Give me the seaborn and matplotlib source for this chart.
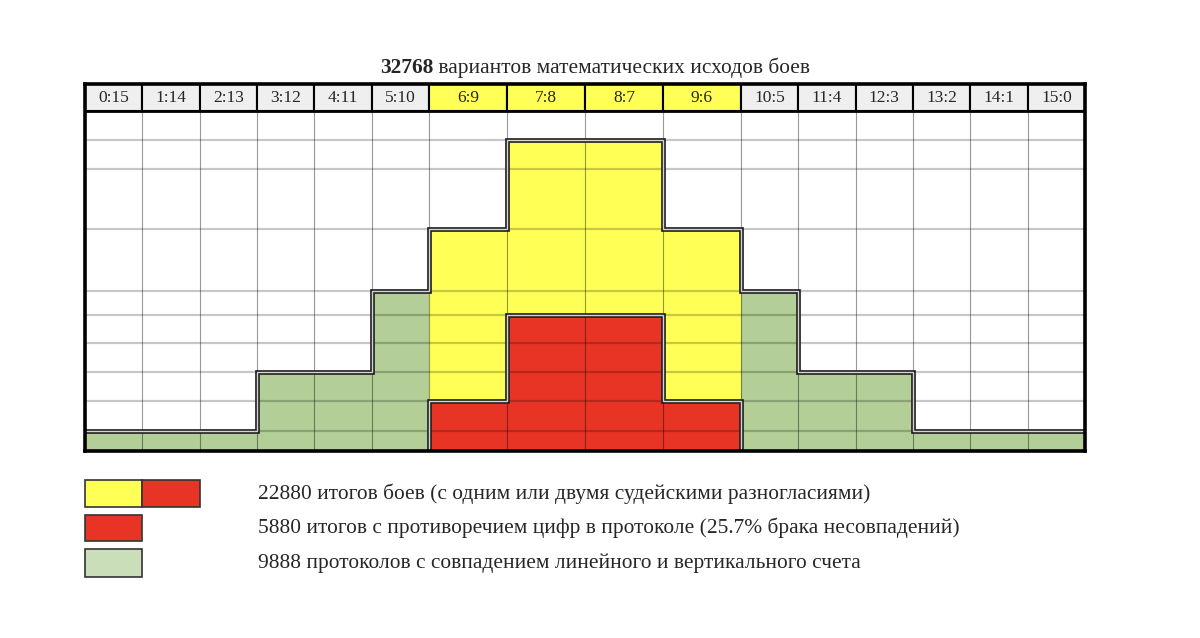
import numpy as np
import matplotlib.pyplot as plt
from matplotlib.patches import Rectangle
import seaborn as sns

# data (heights in plot units, 0..340)
scores = ["0:15", "1:14", "2:13", "3:12", "4:11", "5:10", "6:9", "7:8",
          "8:7", "9:6", "10:5", "11:4", "12:3", "13:2", "14:1", "15:0"]
col_widths = [1] * 6 + [1.36] * 4 + [1] * 6
green = [20, 20, 20, 79, 79, 160, 0, 0, 0, 0, 160, 79, 79, 20, 20, 20]
yellow = [0, 0, 0, 0, 0, 0, 222, 311, 311, 222, 0, 0, 0, 0, 0, 0]
red = [0, 0, 0, 0, 0, 0, 50, 136, 136, 50, 0, 0, 0, 0, 0, 0]
levels = [20, 50, 79, 108, 136, 160, 222, 282, 311]
top = 340
header_h = 27

legend_texts = [
    "22880 итогов боев (с одним или двумя судейскими разногласиями)",
    "5880 итогов с противоречием цифр в протоколе (25.7% брака несовпадений)",
    "9888 протоколов с совпадением линейного и вертикального счета",
]

c_green = "#b3cf97"
c_green_leg = "#c9deb9"
c_yellow = "#ffff55"
c_red = "#e83424"
c_head = "#efefef"

sns.set_theme(style="white")
plt.rcParams["font.family"] = ["Liberation Serif", "DejaVu Serif"]

fig = plt.figure(figsize=(12, 6.38), dpi=100)
ax = fig.add_axes([85 / 1200, (638 - 451) / 638, 1000 / 1200, 367 / 638])

edges = np.concatenate([[0], np.cumsum(col_widths)])
lefts = edges[:-1]

# fills
ax.bar(lefts, green, width=col_widths, align="edge", color=c_green, lw=0, zorder=1)
ax.bar(lefts, yellow, width=col_widths, align="edge", color=c_yellow, lw=0, zorder=1)
ax.bar(lefts, red, width=col_widths, align="edge", color=c_red, lw=0, zorder=2)

# grid over the fills
ax.hlines(levels, 0, edges[-1], color="black", alpha=0.22, lw=1.6, zorder=3)
ax.vlines(edges[1:-1], 0, top, color="black", alpha=0.4, lw=0.8, zorder=3)

# double outlines
envelope = np.maximum(green, yellow)
for lw, col in [(3.4, "#222222"), (1.0, "#d4d4d4")]:
    ax.stairs(envelope, edges, baseline=None, color=col, lw=lw, zorder=4)
    ax.stairs(red[6:10], edges[6:11], baseline=0, color=col, lw=lw, zorder=4)

# header row
head_colors = [c_yellow if 6 <= i <= 9 else c_head for i in range(len(scores))]
ax.bar(lefts, header_h, width=col_widths, bottom=top, align="edge",
       color=head_colors, edgecolor="black", lw=1.5, zorder=5)
for x, w, s in zip(lefts, col_widths, scores):
    ax.text(x + w / 2, top + header_h / 2, s, ha="center", va="center",
            fontsize=12.5, zorder=6)
ax.axhline(top, color="black", lw=2, zorder=6)

ax.set_xlim(0, edges[-1])
ax.set_ylim(0, top + header_h)
ax.set_xticks([])
ax.set_yticks([])
for sp in ax.spines.values():
    sp.set_visible(True)
    sp.set_color("black")
    sp.set_linewidth(2.6)
    sp.set_zorder(7)

# title
t1 = fig.text(380 / 1200, 1 - 68 / 638, "32768", fontsize=15.4, fontweight="bold",
              ha="left", va="center")
ax.annotate(" вариантов математических исходов боев", xy=(1, 0.5), xycoords=t1,
            xytext=(0, 0), textcoords="offset points", ha="left", va="center",
            fontsize=15.4, annotation_clip=False)

# legend
leg = fig.add_axes([0, 0, 1, 1], zorder=-1)
leg.set_xlim(0, 1200)
leg.set_ylim(638, 0)
leg.axis("off")
swatches = [
    (85, 480, 57, 27, c_yellow), (142, 480, 58, 27, c_red),
    (85, 515, 57, 26, c_red),
    (85, 549, 57, 28, c_green_leg),
]
for x, y, w, h, c in swatches:
    leg.add_patch(Rectangle((x, y), w, h, facecolor=c, edgecolor="#333333", lw=1.2))
for y, s in zip([494, 528, 563], legend_texts):
    leg.text(258, y, s, fontsize=15.4, ha="left", va="center")

fig.savefig("out.png", dpi=100)
